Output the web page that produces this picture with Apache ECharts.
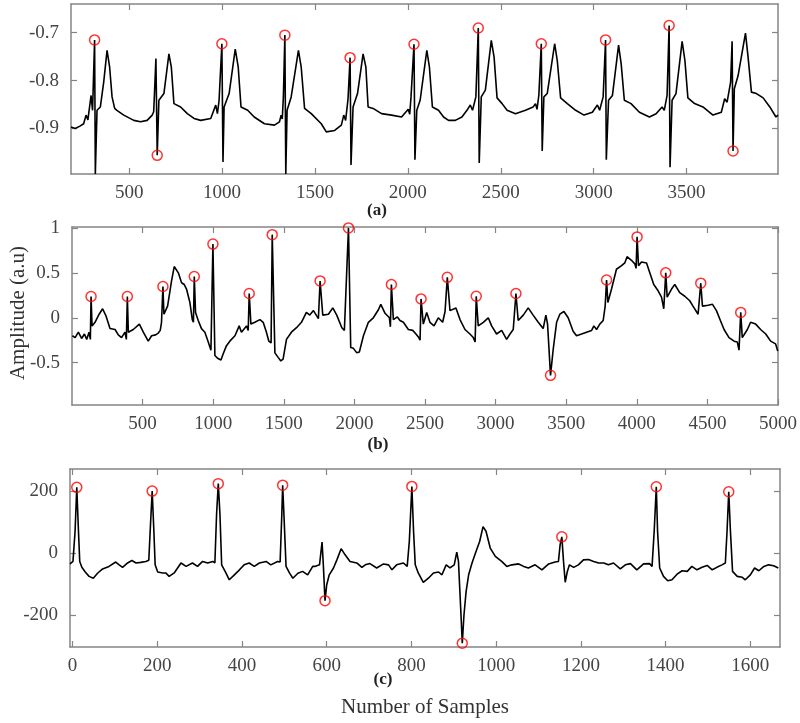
<!DOCTYPE html>
<html><head><meta charset="utf-8">
<script src="https://cdn.jsdelivr.net/npm/echarts@6/dist/echarts.min.js"></script>
<style>html,body{margin:0;padding:0;background:#fff}#c{width:800px;height:723px}</style>
</head><body><div id="c"></div>
<script>
// ---------- Panel (a) ----------
const xTicksA = [500, 1000, 1500, 2000, 2500, 3000, 3500];
const yTicksA = [-0.9, -0.8, -0.7];
const sigA = [
[187,-0.897],[210,-0.9],[235,-0.895],[255,-0.89],[268,-0.872],[278,-0.882],[295,-0.831],[303,-0.862],[314,-0.715],[318,-0.995],[327,-0.862],[345,-0.855],[363,-0.803],[381,-0.737],[395,-0.772],[408,-0.834],[422,-0.858],[434,-0.862],[471,-0.872],[525,-0.883],[561,-0.886],[597,-0.883],[624,-0.872],[632,-0.865],[637,-0.820],[644,-0.754],[651,-0.956],[660,-0.841],[687,-0.827],[714,-0.744],[727,-0.772],[741,-0.848],[777,-0.855],[813,-0.869],[849,-0.879],[885,-0.883],[939,-0.879],[966,-0.851],[975,-0.869],[984,-0.841],[999,-0.723],[1005,-0.970],[1011,-0.855],[1038,-0.827],[1071,-0.734],[1087,-0.772],[1102,-0.855],[1138,-0.862],[1173,-0.876],[1228,-0.890],[1282,-0.893],[1309,-0.886],[1318,-0.872],[1324,-0.88],[1330,-0.834],[1338,-0.705],[1343,-0.995],[1350,-0.862],[1372,-0.834],[1411,-0.737],[1426,-0.772],[1444,-0.858],[1480,-0.869],[1534,-0.890],[1561,-0.907],[1606,-0.904],[1642,-0.893],[1655,-0.872],[1665,-0.883],[1678,-0.838],[1689,-0.752],[1694,-0.976],[1705,-0.855],[1729,-0.827],[1759,-0.744],[1774,-0.772],[1786,-0.855],[1813,-0.858],[1858,-0.869],[1912,-0.872],[1966,-0.876],[1988,-0.866],[2002,-0.860],[2010,-0.87],[2017,-0.834],[2033,-0.724],[2038,-0.965],[2048,-0.862],[2066,-0.841],[2102,-0.737],[2116,-0.772],[2132,-0.855],[2165,-0.862],[2192,-0.876],[2219,-0.883],[2255,-0.883],[2291,-0.876],[2318,-0.862],[2336,-0.851],[2348,-0.862],[2366,-0.834],[2379,-0.690],[2384,-0.972],[2395,-0.834],[2417,-0.820],[2449,-0.716],[2464,-0.751],[2480,-0.836],[2507,-0.848],[2534,-0.862],[2579,-0.869],[2633,-0.862],[2674,-0.855],[2687,-0.848],[2695,-0.86],[2705,-0.830],[2718,-0.723],[2723,-0.947],[2732,-0.834],[2750,-0.827],[2790,-0.723],[2804,-0.758],[2822,-0.836],[2858,-0.848],[2903,-0.862],[2948,-0.872],[2993,-0.866],[3020,-0.851],[3032,-0.862],[3051,-0.834],[3064,-0.715],[3068,-0.965],[3080,-0.841],[3101,-0.831],[3134,-0.726],[3148,-0.765],[3165,-0.841],[3201,-0.848],[3246,-0.866],[3300,-0.876],[3336,-0.869],[3368,-0.855],[3380,-0.862],[3395,-0.831],[3406,-0.685],[3411,-0.981],[3422,-0.841],[3443,-0.827],[3476,-0.718],[3491,-0.758],[3507,-0.836],[3543,-0.848],[3588,-0.855],[3642,-0.872],[3687,-0.866],[3705,-0.838],[3718,-0.845],[3737,-0.803],[3745,-0.718],[3750,-0.947],[3757,-0.817],[3777,-0.790],[3817,-0.701],[3831,-0.751],[3849,-0.824],[3876,-0.827],[3912,-0.836],[3948,-0.855],[3981,-0.876],[3992,-0.872]
];
const peaksA = [[314,-0.715],[651,-0.956],[999,-0.723],[1338,-0.705],[1689,-0.752],[2033,-0.724],[2379,-0.690],[2718,-0.723],[3064,-0.715],[3406,-0.685],[3750,-0.947]];

// ---------- Panel (b) ----------
const xTicksB = [500, 1000, 1500, 2000, 2500, 3000, 3500, 4000, 4500, 5000];
const yTicksB = [-0.5, 0, 0.5, 1];
const sigB = [
[3,-0.20],[22,-0.22],[45,-0.16],[68,-0.23],[88,-0.18],[104,-0.24],[121,-0.16],[130,-0.24],[135,0.237],[142,-0.09],[163,-0.05],[192,0.04],[217,0.10],[241,0.02],[269,-0.12],[305,-0.13],[328,-0.19],[351,-0.22],[375,-0.16],[385,-0.24],[392,0.237],[399,-0.16],[434,-0.13],[477,-0.07],[505,-0.16],[540,-0.26],[564,-0.20],[592,-0.19],[611,-0.17],[625,-0.14],[634,-0.05],[644,0.348],[651,0.04],[677,0.13],[705,0.41],[724,0.57],[753,0.50],[776,0.39],[795,0.37],[811,0.32],[835,0.17],[852,-0.02],[860,-0.05],[866,0.459],[875,0.06],[894,-0.03],[917,-0.12],[941,-0.16],[965,-0.27],[984,-0.36],[992,-0.38],[998,0.82],[1012,-0.42],[1031,-0.45],[1055,-0.47],[1071,-0.40],[1094,-0.31],[1118,-0.26],[1154,-0.20],[1184,-0.09],[1200,-0.16],[1236,-0.09],[1248,-0.14],[1255,0.27],[1267,-0.07],[1295,-0.05],[1331,-0.02],[1354,-0.05],[1377,-0.16],[1394,-0.26],[1410,-0.28],[1418,0.925],[1437,-0.39],[1460,-0.44],[1479,-0.48],[1495,-0.46],[1519,-0.24],[1554,-0.16],[1590,-0.11],[1625,-0.05],[1660,0.06],[1684,0.03],[1710,0.08],[1745,-0.01],[1757,0.41],[1776,0.03],[1816,0.04],[1847,0.11],[1875,0.03],[1911,-0.11],[1929,-0.14],[1958,1.0],[1974,-0.33],[1993,-0.34],[2017,-0.39],[2035,-0.38],[2064,-0.20],[2099,-0.05],[2134,0.0],[2170,0.09],[2187,0.15],[2217,0.05],[2248,0.0],[2255,-0.1],[2262,0.37],[2276,-0.02],[2304,0.01],[2323,-0.03],[2347,-0.05],[2382,-0.13],[2413,-0.14],[2436,-0.18],[2456,-0.22],[2465,-0.25],[2472,0.21],[2488,-0.07],[2512,0.06],[2535,-0.05],[2564,-0.09],[2594,0.0],[2625,-0.05],[2642,0.07],[2658,0.45],[2677,0.08],[2719,0.11],[2748,-0.02],[2783,-0.13],[2818,-0.18],[2842,-0.22],[2855,-0.27],[2863,0.24],[2877,-0.09],[2913,-0.05],[2948,0.0],[2972,-0.09],[3007,-0.18],[3043,-0.14],[3078,-0.24],[3102,-0.18],[3125,-0.13],[3137,-0.15],[3144,0.27],[3160,-0.03],[3196,0.03],[3231,0.11],[3266,0.03],[3302,-0.05],[3337,-0.12],[3356,0.03],[3368,-0.07],[3389,-0.64],[3408,-0.35],[3432,-0.05],[3455,0.04],[3484,0.07],[3514,0.0],[3549,-0.15],[3573,-0.20],[3609,-0.18],[3644,-0.16],[3680,-0.14],[3696,-0.09],[3715,-0.13],[3738,-0.07],[3762,-0.03],[3776,0.13],[3786,0.42],[3795,0.17],[3821,0.32],[3856,0.54],[3892,0.58],[3915,0.61],[3931,0.68],[3962,0.64],[3986,0.60],[3995,0.55],[4002,0.90],[4012,0.58],[4033,0.62],[4069,0.61],[4092,0.50],[4120,0.37],[4151,0.30],[4175,0.23],[4191,0.10],[4205,0.50],[4215,0.23],[4246,0.32],[4269,0.37],[4304,0.28],[4340,0.24],[4375,0.19],[4398,0.13],[4434,0.04],[4445,0.02],[4453,0.385],[4465,0.13],[4505,0.14],[4536,0.15],[4564,0.08],[4592,-0.03],[4618,-0.13],[4653,-0.22],[4689,-0.26],[4712,-0.27],[4724,-0.36],[4736,0.06],[4747,-0.22],[4783,-0.13],[4806,-0.05],[4842,-0.07],[4877,-0.13],[4913,-0.18],[4948,-0.26],[4983,-0.29],[4998,-0.37]
];
const peaksB = [[135,0.237],[392,0.237],[644,0.348],[866,0.459],[998,0.82],[1255,0.27],[1418,0.925],[1757,0.41],[1958,1.0],[2262,0.37],[2472,0.21],[2658,0.45],[2863,0.24],[3144,0.27],[3389,-0.64],[3786,0.42],[4002,0.9],[4205,0.5],[4453,0.385],[4736,0.06]];

// ---------- Panel (c) ----------
const xTicksC = [0, 200, 400, 600, 800, 1000, 1200, 1400, 1600];
const yTicksC = [-200, 0, 200];
const sigC = [
[-6,-35],[-2,-38],[1,-27],[6,70],[10,211],[14,70],[17,-27],[22,-46],[30,-61],[39,-75],[49,-81],[59,-65],[71,-51],[86,-43],[102,-29],[110,-38],[118,-46],[130,-32],[140,-24],[150,-32],[161,-30],[173,-27],[180,-23],[184,91],[188,199],[192,70],[195,-38],[201,-61],[213,-64],[220,-64],[228,-75],[240,-64],[256,-32],[268,-43],[283,-32],[295,-43],[307,-27],[319,-32],[331,-27],[336,-32],[340,124],[344,223],[348,124],[352,-38],[362,-64],[370,-86],[382,-70],[394,-54],[405,-38],[417,-32],[429,-43],[441,-32],[457,-27],[468,-38],[484,-27],[490,-29],[494,124],[496,218],[499,124],[504,-43],[512,-64],[520,-81],[532,-65],[543,-59],[555,-70],[567,-43],[572,-43],[583,-38],[589,35],[592,-38],[596,-153],[600,-102],[606,-70],[616,-48],[624,-22],[634,14],[643,-5],[655,-27],[671,-32],[683,-46],[691,-38],[702,-34],[718,-48],[734,-35],[746,-38],[754,-54],[765,-38],[781,-32],[790,-43],[795,38],[801,214],[805,70],[809,-38],[816,-64],[828,-94],[840,-81],[852,-64],[864,-61],[872,-70],[882,-38],[891,-48],[901,-38],[907,3],[911,-27],[917,-199],[920,-290],[924,-199],[929,-124],[935,-70],[943,-32],[952,3],[961,37],[969,85],[976,70],[986,16],[998,-11],[1013,-27],[1025,-43],[1037,-38],[1053,-35],[1065,-43],[1076,-48],[1092,-38],[1108,-54],[1124,-35],[1139,-29],[1147,-27],[1151,27],[1155,52],[1159,-27],[1163,-94],[1168,-59],[1173,-38],[1183,-46],[1194,-38],[1206,-22],[1218,-21],[1230,-27],[1242,-32],[1254,-32],[1265,-38],[1277,-32],[1293,-51],[1305,-38],[1317,-34],[1332,-54],[1348,-35],[1362,-34],[1368,-43],[1373,70],[1378,213],[1381,70],[1386,-48],[1395,-75],[1405,-89],[1415,-86],[1427,-68],[1439,-57],[1451,-59],[1462,-43],[1474,-54],[1486,-46],[1498,-40],[1510,-54],[1521,-46],[1533,-38],[1541,-32],[1545,70],[1549,197],[1553,70],[1558,-59],[1569,-75],[1581,-78],[1588,-86],[1600,-70],[1610,-48],[1620,-57],[1632,-43],[1643,-38],[1655,-41],[1666,-48]
];
const peaksC = [[10,211],[188,199],[344,223],[496,218],[596,-153],[801,214],[920,-290],[1155,52],[1378,213],[1549,197]];

const panelLabels = ['(a)', '(b)', '(c)'];
const yTitle = 'Amplitude (a.u)';
const xTitle = 'Number of Samples';

// ---------- chart ----------
const FONT = '"Liberation Serif", "Times New Roman", serif';
const AX = '#858585';
const fmt = v => String(v);

function xAx(gi, min, max, ticks, pos, labels) {
  return {
    type: 'value', gridIndex: gi, min: min, max: max, position: pos,
    axisLine: { show: true, onZero: false, lineStyle: { color: AX, width: 1.5 } },
    axisTick: { show: true, inside: true, length: 6, customValues: ticks, lineStyle: { color: AX, width: 1.2 } },
    axisLabel: { show: labels, customValues: ticks, margin: 10, color: '#444', fontFamily: FONT, fontSize: 19, formatter: fmt },
    splitLine: { show: false }
  };
}
function yAx(gi, min, max, ticks, pos, labels) {
  return {
    type: 'value', gridIndex: gi, min: min, max: max, position: pos,
    axisLine: { show: true, onZero: false, lineStyle: { color: AX, width: 1.5 } },
    axisTick: { show: true, inside: true, length: 6, customValues: ticks, lineStyle: { color: AX, width: 1.2 } },
    axisLabel: { show: labels, customValues: ticks, margin: 12, color: '#444', fontFamily: FONT, fontSize: 19, formatter: fmt },
    splitLine: { show: false }
  };
}
function lineS(i, data) {
  return { type: 'line', xAxisIndex: i * 2, yAxisIndex: i * 2, data: data, showSymbol: false, symbol: 'none',
    lineStyle: { color: '#000', width: 1.6 }, silent: true, z: 2 };
}
function peakS(i, data) {
  return { type: 'scatter', xAxisIndex: i * 2, yAxisIndex: i * 2, data: data, symbol: 'circle', symbolSize: 10,
    itemStyle: { color: 'rgba(0,0,0,0)', borderColor: '#ff0000', borderWidth: 1.5 }, silent: true, z: 5 };
}

const chart = echarts.init(document.getElementById('c'), null, { renderer: 'canvas' });
chart.setOption({
  animation: false,
  backgroundColor: '#fff',
  grid: [
    { left: 71, top: 4, width: 707, height: 170 },
    { left: 72, top: 227, width: 707, height: 178 },
    { left: 70, top: 469, width: 710, height: 178 }
  ],
  xAxis: [
    xAx(0, 187, 3992, xTicksA, 'bottom', true), xAx(0, 187, 3992, xTicksA, 'top', false),
    xAx(1, 0, 5000, xTicksB, 'bottom', true), xAx(1, 0, 5000, xTicksB, 'top', false),
    xAx(2, -6, 1670, xTicksC, 'bottom', true), xAx(2, -6, 1670, xTicksC, 'top', false)
  ],
  yAxis: [
    yAx(0, -0.995, -0.64, yTicksA, 'left', true), yAx(0, -0.995, -0.64, yTicksA, 'right', false),
    yAx(1, -0.97, 1.01, yTicksB, 'left', true), yAx(1, -0.97, 1.01, yTicksB, 'right', false),
    yAx(2, -302, 270, yTicksC, 'left', true), yAx(2, -302, 270, yTicksC, 'right', false)
  ],
  series: [
    lineS(0, sigA), peakS(0, peaksA),
    lineS(1, sigB), peakS(1, peaksB),
    lineS(2, sigC), peakS(2, peaksC)
  ],
  graphic: [
    { type: 'text', x: 377, y: 211, style: { text: panelLabels[0], align: 'center', verticalAlign: 'middle', font: 'bold 17px ' + FONT, fill: '#222' } },
    { type: 'text', x: 378, y: 445, style: { text: panelLabels[1], align: 'center', verticalAlign: 'middle', font: 'bold 17px ' + FONT, fill: '#222' } },
    { type: 'text', x: 383, y: 680, style: { text: panelLabels[2], align: 'center', verticalAlign: 'middle', font: 'bold 17px ' + FONT, fill: '#222' } },
    { type: 'text', x: 18, y: 313, rotation: Math.PI / 2, style: { text: yTitle, align: 'center', verticalAlign: 'middle', font: '21px ' + FONT, fill: '#333' } },
    { type: 'text', x: 425, y: 707, style: { text: xTitle, align: 'center', verticalAlign: 'middle', font: '21px ' + FONT, fill: '#333' } }
  ]
});
</script>
</body></html>
